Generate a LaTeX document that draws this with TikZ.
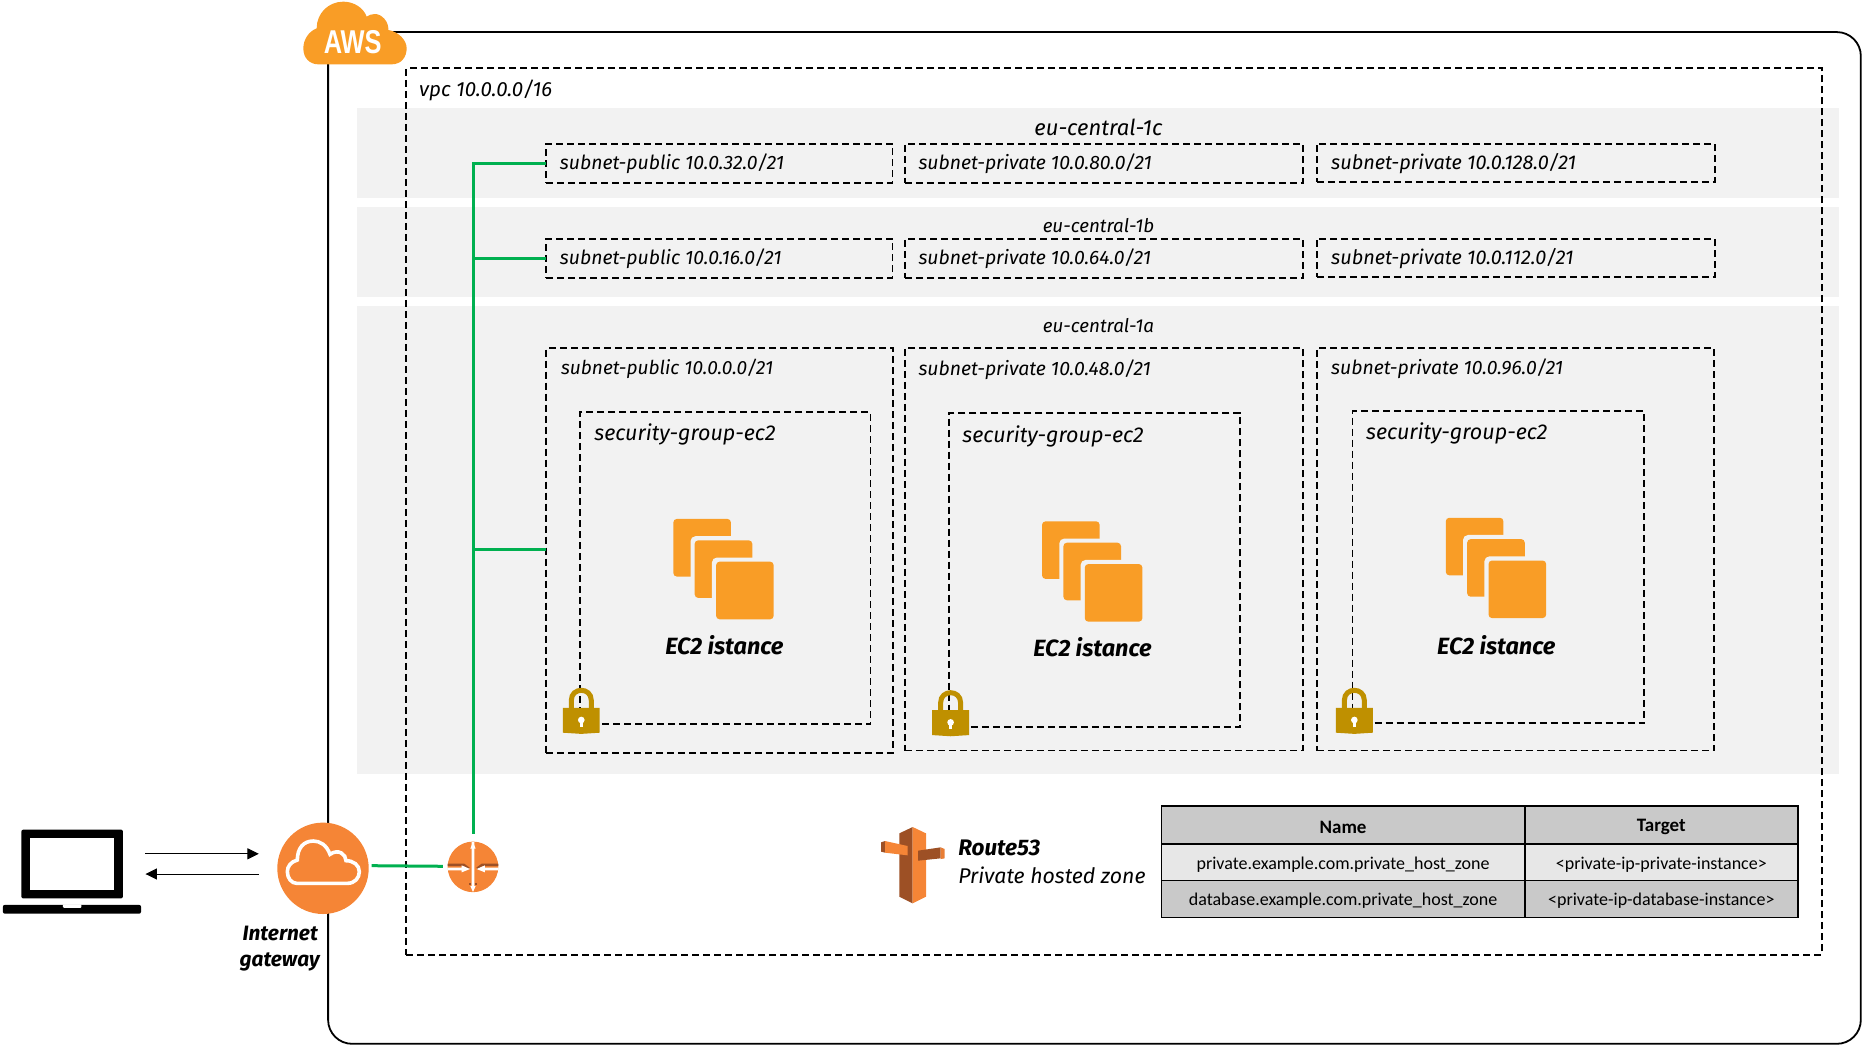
\documentclass[tikz,border=0pt]{standalone}
\usepackage{fontspec}
\setmainfont{Fira Sans}
\newfontfamily\tablefont{Carlito}
\newfontfamily\awsfont{Liberation Sans}
\usetikzlibrary{arrows.meta,fit}
\definecolor{bandgray}{HTML}{F2F2F2}
\definecolor{awsorange}{HTML}{F99D26}
\definecolor{netorange}{HTML}{F58536}
\definecolor{netbrown}{HTML}{9D5025}
\definecolor{netgreen}{HTML}{00B050}
\definecolor{lockgold}{HTML}{BF9000}
\definecolor{headgray}{HTML}{C9C9C9}
\definecolor{rowgray}{HTML}{E7E7E7}
\newcommand{\fsz}[1]{\fontsize{#1}{#1}\selectfont}
\tikzset{
  band/.style={fill=bandgray,draw=none,inner sep=0pt,outer sep=0pt},
  dashbox/.style={draw=black,line width=1.8pt,dash pattern=on 7pt off 4pt,inner sep=0pt,outer sep=0pt},
  txt/.style={inner sep=0pt,outer sep=0pt,font=\itshape},
  boldtxt/.style={inner sep=0pt,outer sep=0pt,font=\bfseries\itshape},
  cell/.style={draw=black,line width=1.7pt,inner sep=0pt,outer sep=0pt},
  celltxt/.style={inner sep=0pt,outer sep=0pt,font=\tablefont\fsz{18}},
  headtxt/.style={inner sep=0pt,outer sep=0pt,font=\tablefont\bfseries\fsz{19}},
  greenline/.style={draw=netgreen,line width=3pt},
  thinarrow/.style={draw=black,line width=1pt,-{Triangle[length=11.5pt,width=11pt]}},
  ecsquare/.style={fill=awsorange,rounded corners=3.5pt},
  ecgap/.style={fill=bandgray,rounded corners=5pt}
}
\newcommand{\ecicon}[2]{%
  \begin{scope}[shift={(#1,#2)}]
    \fill[ecsquare] (0,0) rectangle (48.5,48.5);
    \fill[ecgap] (14.5,14.5) rectangle (70,70);
    \fill[ecsquare] (18,18) rectangle (66.5,66.5);
    \fill[ecgap] (32.5,32.5) rectangle (88,88);
    \fill[ecsquare] (36,36) rectangle (84.5,84.5);
  \end{scope}}
\newcommand{\lockicon}[2]{%
  \begin{scope}[shift={(#1,#2)}]
    \draw[lockgold,line width=5pt] (-8.4,18) -- (-8.4,10.7) .. controls (-8.4,-0.5) and (8.4,-0.5) .. (8.4,10.7) -- (8.4,18);
    \fill[lockgold] (-15.5,17) -- (15.5,17) -- (15.5,38) -- (0,39) -- (-15.5,38) -- cycle;
    \fill[white] (0,27.3) circle[radius=2.8];
    \fill[white] (-1.1,27.3) rectangle (1.1,33);
  \end{scope}}
\begin{document}
\begin{tikzpicture}[x=1.1875pt,y=-1.1875pt]
\useasboundingbox (0,0) rectangle (1568,880.84);
% bands
\node[band,fit={(301,91)(1549,167)}] (band1c) {};
\node[band,fit={(301,174)(1549,250)}] (band1b) {};
\node[band,fit={(301,258)(1549,652)}] (band1a) {};
% outer cloud frame
\node[draw=black,line width=1.8pt,rounded corners=24pt,inner sep=0pt,outer sep=0pt,fit={(276.3,27)(1567,879)}] (frame) {};
% vpc
\node[dashbox,fit={(342,57.5)(1534,804)}] (vpc) {};
\node[txt,anchor=base west,font=\itshape\fsz{20.5}] (vpclabel) at (353,81) {vpc 10.0.0.0/16};
% AZ labels
\node[txt,font=\itshape\fsz{22}] (az1c) at (925,107) {eu-central-1c};
\node[txt,font=\itshape\fsz{18.8}] (az1b) at (925,190) {eu-central-1b};
\node[txt,font=\itshape\fsz{18.8}] (az1a) at (925,274) {eu-central-1a};
% subnets row 1
\node[dashbox,fit={(460,121)(751.5,154)}] (pub32) {};
\node[dashbox,fit={(762,121)(1097,154)}] (prv80) {};
\node[dashbox,fit={(1109,121)(1444,153.5)}] (prv128) {};
\node[txt,anchor=base west,font=\itshape\fsz{19.4}] (pub32t) at (471.5,143) {subnet-public 10.0.32.0/21};
\node[txt,anchor=base west,font=\itshape\fsz{19.4}] (prv80t) at (773.5,143) {subnet-private 10.0.80.0/21};
\node[txt,anchor=base west,font=\itshape\fsz{19.9}] (prv128t) at (1121,143) {subnet-private 10.0.128.0/21};
% subnets row 2
\node[dashbox,fit={(460,201)(751.5,234)}] (pub16) {};
\node[dashbox,fit={(762,201)(1097,234)}] (prv64) {};
\node[dashbox,fit={(1109,201)(1444,233.5)}] (prv112) {};
\node[txt,anchor=base west,font=\itshape\fsz{19.4}] (pub16t) at (471.5,223) {subnet-public 10.0.16.0/21};
\node[txt,anchor=base west,font=\itshape\fsz{19.4}] (prv64t) at (773.5,223) {subnet-private 10.0.64.0/21};
\node[txt,anchor=base west,font=\itshape\fsz{19.9}] (prv112t) at (1121,223) {subnet-private 10.0.112.0/21};
% subnets row 3
\node[dashbox,fit={(460,293)(752,634)}] (pub0) {};
\node[dashbox,fit={(762,293)(1097,632)}] (prv48) {};
\node[dashbox,fit={(1109,293)(1443.5,632)}] (prv96) {};
\node[txt,anchor=base west,font=\itshape\fsz{19.1}] (pub0t) at (472.5,315.5) {subnet-public 10.0.0.0/21};
\node[txt,anchor=base west,font=\itshape\fsz{19.4}] (prv48t) at (773.5,316.5) {subnet-private 10.0.48.0/21};
\node[txt,anchor=base west,font=\itshape\fsz{19.4}] (prv96t) at (1121,315.5) {subnet-private 10.0.96.0/21};
% security groups
\node[dashbox,fit={(488.5,347)(733,610)}] (sg1) {};
\node[dashbox,fit={(799,348)(1044.5,612)}] (sg2) {};
\node[dashbox,fit={(1139,346)(1384.5,609)}] (sg3) {};
\node[txt,anchor=base west,font=\itshape\fsz{21.5}] (sg1t) at (500.5,371) {security-group-ec2};
\node[txt,anchor=base west,font=\itshape\fsz{21.5}] (sg2t) at (810.5,373) {security-group-ec2};
\node[txt,anchor=base west,font=\itshape\fsz{21.5}] (sg3t) at (1150.5,370) {security-group-ec2};
% EC2 icons
\ecicon{567}{437}
\ecicon{877.5}{439}
\ecicon{1217.5}{436}
\node[boldtxt,font=\bfseries\itshape\fsz{23.5}] (ec1) at (610,543) {EC2 istance};
\node[boldtxt,font=\bfseries\itshape\fsz{23.5}] (ec2) at (920,545) {EC2 istance};
\node[boldtxt,font=\bfseries\itshape\fsz{23.5}] (ec3) at (1260,543) {EC2 istance};
% locks
\lockicon{489.5}{579}
\lockicon{800.5}{581}
\lockicon{1140.5}{579}
% laptop
\node[fill=black,rounded corners=2pt,inner sep=0pt,outer sep=0pt,fit={(18,698.6)(103.5,756.6)}] (laptop) {};
\node[fill=white,inner sep=0pt,outer sep=0pt,fit={(25.3,705.8)(96.2,749.1)}] (screen) {};
\fill[black,rounded corners=2pt] (2.4,762) -- (118.8,762) -- (118.8,769.4) -- (2.4,769.4) -- cycle;
\fill[white,rounded corners=1pt] (53,761.5) -- (68.6,761.5) -- (68.6,764.5) -- (53,764.5) -- cycle;
% internet gateway
\node[circle,fill=netorange,inner sep=0pt,outer sep=0pt,minimum size=91.4pt] (igw) at (272,731.2) {};
\begin{scope}[shift={(227.37,686.32)},scale=0.2807]
  \draw[white,line width=3.6pt] (80,205) -- (232,205) .. controls (255,205) and (268,188) .. (268,170)
    .. controls (268,150) and (250,137) .. (228,137) .. controls (228,118) and (205,100) .. (180,118)
    .. controls (170,90) and (150,78) .. (130,78) .. controls (100,78) and (82,100) .. (82,135)
    .. controls (62,140) and (52,155) .. (52,170) .. controls (52,190) and (65,205) .. (80,205) -- cycle;
\end{scope}
\node[boldtxt,font=\bfseries\itshape\fsz{20.8}] (igwt1) at (236,786) {Internet};
\node[boldtxt,font=\bfseries\itshape\fsz{20.8}] (igwt2) at (235.5,810) {gateway};
% router
\node[circle,fill=netorange,inner sep=0pt,outer sep=0pt,minimum size=50.6pt] (router) at (398.3,730) {};
\begin{scope}[shift={(366.3,698.95)},scale=0.2807]
  \fill[netbrown] (38,101) -- (88,101) -- (104,113) -- (100,118) -- (85,108) -- (38,108) -- cycle;
  \fill[netbrown] (190,101) -- (140,101) -- (124,113) -- (128,118) -- (143,108) -- (190,108) -- cycle;
  \fill[white] (38,113) -- (80,113) -- (80,106) -- (105,117) -- (80,127) -- (80,121) -- (38,121) -- cycle;
  \fill[white] (190,113) -- (150,113) -- (150,106) -- (125,117) -- (150,127) -- (150,121) -- (190,121) -- cycle;
  \fill[netbrown] (103,158) rectangle (108,166);
  \fill[netbrown] (120,158) rectangle (125,166);
  \fill[white] (110,36) -- (118,36) -- (118,60) -- (118,168) -- (122,168) -- (114,186) -- (106,168) -- (110,168) -- cycle;
  \fill[white] (114,36) -- (122,56) -- (106,56) -- cycle;
\end{scope}
% green connectors
\coordinate (gwout) at (313,729);
\coordinate (rtin) at (373,729.5);
\coordinate (rtup) at (398.7,702);
\coordinate (t32) at (398.7,137.5);
\coordinate (t16) at (398.7,217.5);
\coordinate (t0) at (398.7,463);
\draw[greenline] (gwout) -- (rtin);
\draw[greenline] (rtup) -- (t32) -- (t32 -| pub32.west);
\draw[greenline] (t16) -- (t16 -| pub16.west);
\draw[greenline] (t0) -- (t0 -| pub0.west);
% laptop arrows
\coordinate (lapr1) at (122.5,719);
\coordinate (igwl1) at (218,719);
\coordinate (lapr2) at (122.5,736);
\coordinate (igwl2) at (218,736);
\draw[thinarrow] (lapr1) -- (igwl1);
\draw[thinarrow] (igwl2) -- (lapr2);
% AWS cloud
\begin{scope}[shift={(248.42,0)},scale=0.2807]
  \fill[awsorange] (70,193) -- (290,193) .. controls (320,193) and (335,170) .. (335,145)
    .. controls (335,120) and (310,95) .. (280,90) .. controls (282,65) and (260,42) .. (240,42)
    .. controls (230,42) and (222,45) .. (215,50) .. controls (205,22) and (175,5) .. (145,5)
    .. controls (100,5) and (65,40) .. (65,85) .. controls (40,95) and (25,120) .. (25,145)
    .. controls (25,175) and (45,193) .. (70,193) -- cycle;
\end{scope}
\node[inner sep=0pt,outer sep=0pt,text=white,xscale=0.77,font=\awsfont\bfseries\fsz{33}] (awst) at (297,35.5) {AWS};
% Route53 icon
\begin{scope}[shift={(732.63,686.32)},scale=0.2807]
  \fill[netbrown] (88,55) -- (128,36) -- (128,265) -- (88,245) -- cycle;
  \fill[netorange] (128,36) -- (168,55) -- (168,245) -- (128,265) -- cycle;
  \fill[netbrown] (33,82) -- (45,78) -- (45,113) -- (33,110) -- cycle;
  \fill[netorange] (45,78) -- (113,93) -- (113,121) -- (45,113) -- cycle;
  \fill[netbrown] (144,107) -- (212,97) -- (212,130) -- (144,137) -- cycle;
  \fill[netorange!85!netbrown] (212,97) -- (224,102) -- (224,130) -- (212,132) -- cycle;
\end{scope}
\node[boldtxt,anchor=base west,font=\bfseries\itshape\fsz{22.5}] (r53) at (807,720) {Route53};
\node[txt,anchor=base west,font=\itshape\fsz{21.3}] (r53t) at (807,744) {Private hosted zone};
% table
\node[cell,fill=headgray,fit={(978,679)(1284,711)}] (hname) {};
\node[cell,fill=headgray,fit={(1284,679)(1514,711)}] (htarget) {};
\node[cell,fill=rowgray,fit={(978,711)(1284,741.5)}] (r1name) {};
\node[cell,fill=rowgray,fit={(1284,711)(1514,741.5)}] (r1target) {};
\node[cell,fill=headgray,fit={(978,741.5)(1284,772.5)}] (r2name) {};
\node[cell,fill=headgray,fit={(1284,741.5)(1514,772.5)}] (r2target) {};
\node[headtxt] (hnamet) at ([yshift=-1.7pt]hname.center) {Name};
\node[headtxt] (htargett) at ([yshift=-1.7pt]htarget.center) {Target};
\node[celltxt] (r1namet) at ([yshift=-2.2pt]r1name.center) {private.example.com.private\_host\_zone};
\node[celltxt] (r1targett) at ([yshift=-2.2pt]r1target.center) {<private-ip-private-instance>};
\node[celltxt] (r2namet) at ([yshift=-2.2pt]r2name.center) {database.example.com.private\_host\_zone};
\node[celltxt] (r2targett) at ([yshift=-2.2pt]r2target.center) {<private-ip-database-instance>};
\end{tikzpicture}
\end{document}
